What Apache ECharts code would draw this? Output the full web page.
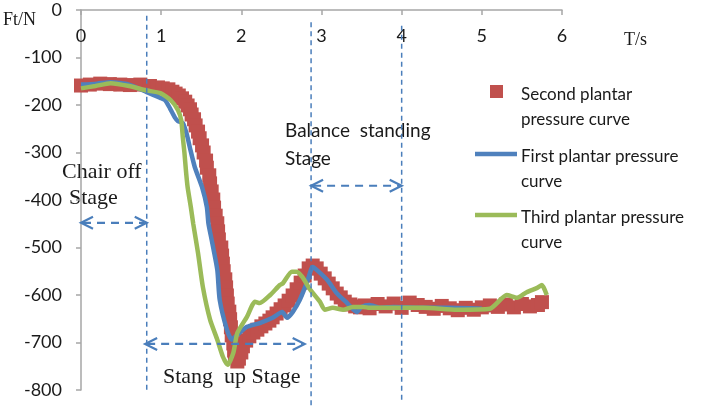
<!DOCTYPE html>
<html>
<head>
<meta charset="utf-8">
<script src="https://cdn.jsdelivr.net/npm/echarts@6/dist/echarts.min.js"></script>
<style>
html,body{margin:0;padding:0;background:#fff;}
#chart{width:708px;height:407px;}
</style>
</head>
<body>
<div id="chart"></div>
<script>
// ---- data (time in s, force in N) ----
const xTicks = [0, 1, 2, 3, 4, 5, 6];
const yTicks = [0, -100, -200, -300, -400, -500, -600, -700, -800];

const secondT = [0,0.11,0.24,0.36,0.49,0.61,0.74,0.86,0.96,1.02,1.09,1.14,1.18,1.22,1.26,1.30,1.33,1.36,1.38,1.41,1.43,1.46,1.48,1.51,1.53,1.56,1.57,1.60,1.61,1.63,1.65,1.66,1.68,1.70,1.71,1.72,1.75,1.76,1.77,1.78,1.80,1.81,1.82,1.83,1.85,1.86,1.87,1.88,1.90,1.91,1.92,1.95,1.97,2.00,2.02,2.06,2.10,2.15,2.20,2.25,2.30,2.35,2.39,2.44,2.49,2.54,2.59,2.64,2.69,2.74,2.79,2.84,2.89,2.94,2.99,3.04,3.09,3.14,3.19,3.24,3.29,3.36,3.42,3.48,3.54,3.60,3.70,3.80,3.90,4.00,4.10,4.20,4.30,4.40,4.50,4.60,4.70,4.80,4.90,5.00,5.10,5.20,5.30,5.40,5.50,5.60,5.70,5.75];
const secondF = [-159,-157,-155,-156,-157,-158,-157,-160,-163,-165,-167,-172,-176,-180,-186,-193,-201,-209,-220,-230,-243,-256,-270,-285,-300,-317,-332,-348,-365,-382,-399,-416,-433,-449,-466,-483,-500,-517,-534,-550,-567,-584,-601,-618,-635,-651,-668,-685,-702,-717,-731,-740,-734,-721,-708,-696,-687,-679,-673,-666,-660,-654,-647,-639,-630,-622,-612,-601,-588,-574,-559,-544,-538,-544,-555,-565,-576,-586,-597,-605,-614,-620,-624,-626,-622,-628,-619,-624,-618,-627,-616,-621,-625,-629,-623,-628,-632,-627,-631,-626,-622,-625,-620,-626,-619,-624,-621,-615];

const firstT = [0,0.2,0.37,0.6,0.82,0.99,1.05,1.11,1.17,1.21,1.27,1.32,1.36,1.42,1.51,1.57,1.59,1.63,1.70,1.73,1.82,1.88,1.95,2.07,2.23,2.39,2.51,2.57,2.64,2.73,2.82,2.89,2.94,3.07,3.19,3.32,3.44,3.50,3.60,3.73,3.90,4.20,4.60,5.00];
const firstF = [-157,-155,-152,-157,-173,-185,-190,-207,-226,-234,-238,-262,-291,-331,-373,-415,-450,-484,-547,-610,-673,-694,-684,-667,-659,-648,-636,-648,-636,-610,-573,-541,-547,-568,-596,-617,-636,-625,-621,-627,-625,-627,-627,-629];

const thirdT = [0,0.18,0.37,0.6,0.81,0.99,1.12,1.21,1.25,1.27,1.29,1.31,1.33,1.37,1.40,1.46,1.52,1.61,1.70,1.77,1.83,1.90,1.95,2.07,2.17,2.23,2.36,2.48,2.52,2.63,2.69,2.76,2.86,2.98,3.04,3.14,3.27,3.39,3.52,3.60,3.89,4.27,4.69,5.10,5.31,5.44,5.56,5.69,5.75,5.81];
const thirdF = [-165,-160,-154,-160,-169,-175,-190,-211,-232,-268,-300,-340,-373,-415,-450,-512,-583,-652,-694,-730,-747,-722,-680,-646,-614,-617,-600,-579,-575,-551,-551,-562,-589,-614,-631,-627,-631,-625,-625,-627,-627,-627,-631,-629,-600,-606,-594,-585,-579,-600];

// stage boundaries [t, top N, bottom N] and arrow spans [t1, t2, N]
const stageLines = [[0.82, -12, -806], [2.87, -26, -832], [4.0, -33, -821]];
const stageArrows = [[0, 0.82, -448], [0.80, 2.79, -703], [2.87, 4.0, -370]];

const seriesNames = ['Second plantar pressure curve', 'First plantar pressure curve', 'Third plantar pressure curve'];
const colors = ['#c0504d', '#4f81bd', '#9bbb59'];
const annotColor = '#4a7ebb';

const zip = (a, b) => a.map((v, i) => [v, b[i]]);

const chart = echarts.init(document.getElementById('chart'), null, {renderer: 'canvas'});
const sansFont = 'Lato';

function renderStageLine(params, api) {
  const p1 = api.coord([api.value(0), api.value(1)]);
  const p2 = api.coord([api.value(0), api.value(2)]);
  return {type: 'line', shape: {x1: p1[0], y1: p1[1], x2: p2[0], y2: p2[1]},
    style: {stroke: annotColor, lineWidth: 1.5, lineDash: [5, 4], fill: null}};
}
function renderArrow(params, api) {
  const p1 = api.coord([api.value(0), api.value(2)]);
  const p2 = api.coord([api.value(1), api.value(2)]);
  const y = p1[1], L = 12, H = 6;
  const st = {stroke: annotColor, lineWidth: 2.2, fill: null};
  return {type: 'group', children: [
    {type: 'line', shape: {x1: p1[0] + 2, y1: y, x2: p2[0] - 2, y2: y}, style: Object.assign({lineDash: [8, 6]}, st)},
    {type: 'polyline', shape: {points: [[p1[0] + L, y - H], [p1[0], y], [p1[0] + L, y + H]]}, style: st},
    {type: 'polyline', shape: {points: [[p2[0] - L, y - H], [p2[0], y], [p2[0] - L, y + H]]}, style: st}
  ]};
}

chart.setOption({
  animation: false,
  backgroundColor: '#fff',
  grid: {left: 81, right: 146, top: 10, bottom: 17, containLabel: false},
  xAxis: {
    type: 'value', position: 'top', min: 0, max: 6, interval: 1,
    axisLine: {show: true, onZero: false, lineStyle: {color: '#a6a6a6', width: 1.5}},
    axisTick: {show: true, inside: true, length: 5, lineStyle: {color: '#a6a6a6', width: 1.5}},
    axisLabel: {inside: true, margin: 17, fontFamily: sansFont, fontSize: 18, color: '#1a1a1a',
      formatter: v => xTicks.includes(v) ? String(v) : ''},
    splitLine: {show: false}
  },
  yAxis: {
    type: 'value', min: -800, max: 0, interval: 100,
    axisLine: {show: true, onZero: false, lineStyle: {color: '#a6a6a6', width: 1.5}},
    axisTick: {show: true, inside: false, length: 5, lineStyle: {color: '#a6a6a6', width: 1.5}},
    axisLabel: {margin: 19, fontFamily: sansFont, fontSize: 18, color: '#1a1a1a',
      formatter: v => yTicks.includes(v) ? String(v) : ''},
    splitLine: {show: false}
  },
  series: [
    {name: seriesNames[0], type: 'scatter', symbol: 'rect', symbolSize: 14, z: 2,
      itemStyle: {color: colors[0], opacity: 1}, data: zip(secondT, secondF), silent: true},
    {name: seriesNames[1], type: 'line', showSymbol: false, symbol: 'none', z: 3, smooth: 0.2,
      lineStyle: {color: colors[1], width: 4.5}, data: zip(firstT, firstF), silent: true},
    {name: seriesNames[2], type: 'line', showSymbol: false, symbol: 'none', z: 4, smooth: 0.2,
      lineStyle: {color: colors[2], width: 4.5}, data: zip(thirdT, thirdF), silent: true},
    {name: 'stageLines', type: 'custom', z: 5, silent: true, clip: false,
      encode: {x: 0, y: [1, 2]}, renderItem: renderStageLine, data: stageLines},
    {name: 'stageArrows', type: 'custom', z: 5, silent: true, clip: false,
      encode: {x: [0, 1], y: 2}, renderItem: renderArrow, data: stageArrows}
  ],
  graphic: [
    {type: 'text', left: 3, top: 11, style: {text: 'Ft/N', font: '18px "Liberation Serif"', fill: '#1a1a1a'}},
    {type: 'text', left: 624, top: 31, style: {text: 'T/s', font: '18px "Liberation Serif"', fill: '#1a1a1a'}},
    {type: 'text', left: 62, top: 161, style: {text: 'Chair off', font: '22px "Liberation Serif"', fill: '#1a1a1a'}},
    {type: 'text', left: 69, top: 187, style: {text: 'Stage', font: '22px "Liberation Serif"', fill: '#1a1a1a'}},
    {type: 'text', left: 163, top: 366, style: {text: 'Stang  up Stage', font: '22px "Liberation Serif"', fill: '#1a1a1a'}},
    {type: 'text', left: 285, top: 121, style: {text: 'Balance  standing', font: '19px Lato', fill: '#1a1a1a'}},
    {type: 'text', left: 285, top: 149, style: {text: 'Stage', font: '19px Lato', fill: '#1a1a1a'}},
    // legend
    {type: 'rect', shape: {x: 490, y: 85, width: 13, height: 13}, style: {fill: colors[0]}},
    {type: 'text', left: 521, top: 82, style: {text: 'Second plantar\npressure curve', font: '17px Lato', fill: '#1a1a1a', lineHeight: 25}},
    {type: 'line', shape: {x1: 475, y1: 154, x2: 517, y2: 154}, style: {stroke: colors[1], lineWidth: 4.5}},
    {type: 'text', left: 521, top: 144, style: {text: 'First plantar pressure\ncurve', font: '17px Lato', fill: '#1a1a1a', lineHeight: 25}},
    {type: 'line', shape: {x1: 475, y1: 215, x2: 517, y2: 215}, style: {stroke: colors[2], lineWidth: 4.5}},
    {type: 'text', left: 521, top: 205, style: {text: 'Third plantar pressure\ncurve', font: '17px Lato', fill: '#1a1a1a', lineHeight: 25}}
  ]
});
</script>
</body>
</html>
